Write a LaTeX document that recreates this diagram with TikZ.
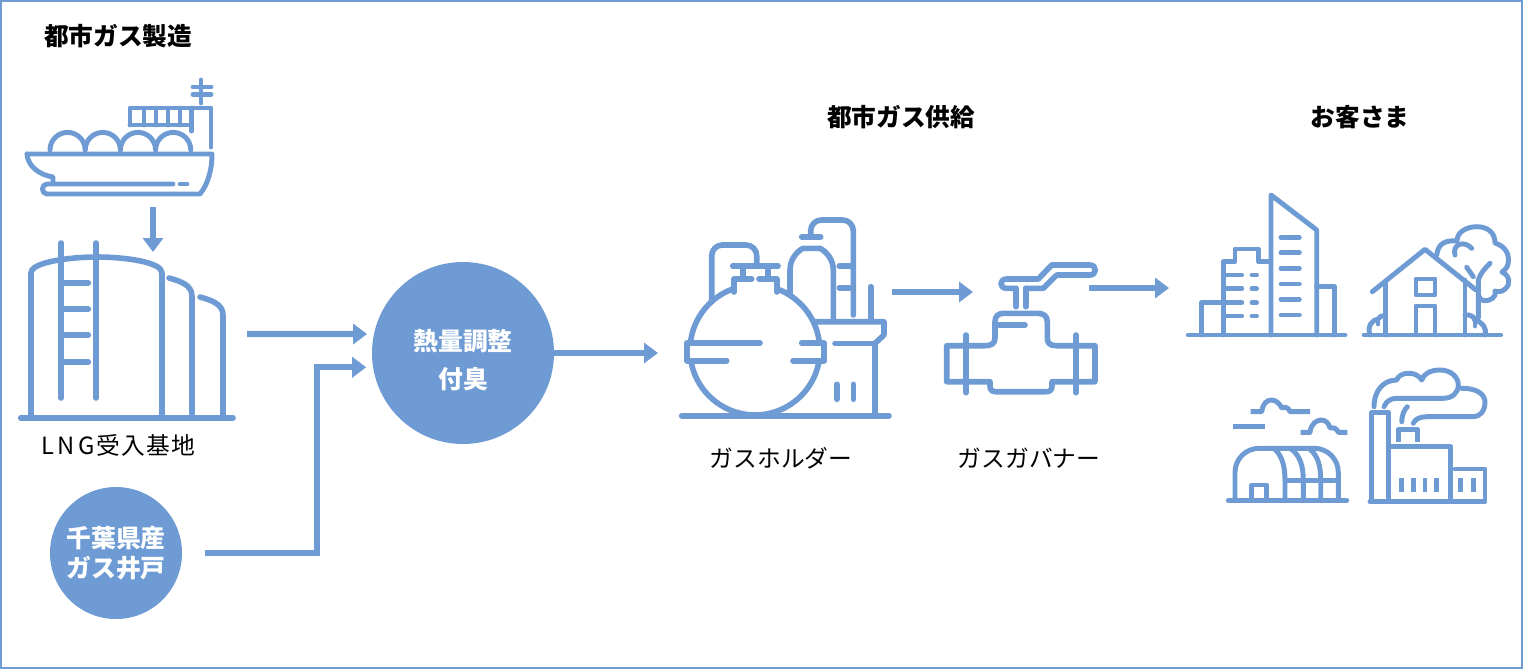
\documentclass[tikz,border=0pt]{standalone}
\usepackage{xcolor}
\usepackage{fontspec}
\usetikzlibrary{arrows.meta,positioning,calc}
\setmainfont{Noto Sans CJK JP}
\definecolor{gasblue}{RGB}{110,155,212}
\tikzset{
  iconline/.style={draw=gasblue, line width=4.2pt, line cap=round, line join=round},
  iconthin/.style={draw=gasblue, line width=3.7pt, line cap=round, line join=round},
  flow/.style={draw=gasblue, line width=4.8pt, -{Triangle[length=10.5pt,width=15pt]}},
  heading/.style={font=\fontsize{18.5}{22}\selectfont\bfseries, text=black},
  caption/.style={font=\fontsize{17.8}{22}\selectfont, text=black},
  hub/.style={circle, fill=gasblue, inner sep=0pt},
  hubtext/.style={align=center, inner sep=0pt, text=white, font=\fontsize{18.6}{28.5}\selectfont\bfseries}
}
\begin{document}
\begin{tikzpicture}[x=0.75pt,y=-0.75pt]
\useasboundingbox (0,0) rectangle (1523,669);
\draw[gasblue, line width=1.6pt] (1,1) rectangle (1522,668);

\node[heading] (maketitle) at (118,36) {都市ガス製造};
\node[heading] (supplytitle) at (901,117) {都市ガス供給};
\node[heading] (usertitle) at (1360,117) {お客さま};
\node[caption] (tanklabel) at (118,445) {L\,N\,G\hspace{0.5pt}受\hspace{1pt}入\hspace{1pt}基\hspace{1pt}地};
\node[caption] (holderlabel) at (781,458) {ガスホルダー};
\node[caption] (valvelabel) at (1029,458) {ガスガバナー};

\node[hub, minimum size=136.5pt] (mix) at (463,353) {};
\node[hub, minimum size=99pt] (well) at (116,553) {};
\node[hubtext] (mixtext) at (463,360) {熱量調整\\付臭};
\node[hubtext, font=\fontsize{18.6}{23}\selectfont\bfseries] (welltext) at (116,553) {千葉県産\\ガス井戸};

\begin{scope}[iconthin]
\draw (27,154) -- (212,154) .. controls (212,170) and (208,184) .. (200,194) -- (47,194)
  .. controls (41,194) and (41,184) .. (47,184) -- (173,184);
\draw (27,154) .. controls (28,167) and (40,175) .. (53,177) -- (53,183);
\draw (180,184) -- (187,184);
\draw (50,150) arc[start angle=180,end angle=360,radius=17.6];
\draw (85.2,150) arc[start angle=180,end angle=360,radius=17.6];
\draw (120.4,150) arc[start angle=180,end angle=360,radius=17.6];
\draw (155.6,150) arc[start angle=180,end angle=360,radius=17.6];
\draw (130,125) -- (130,108) -- (211,108) -- (211,147);
\draw (130,125) -- (191.7,125);
\draw (191.7,108) -- (191.7,131);
\foreach \winx in {144,156,168,180} \draw (\winx,108) -- (\winx,125);
\draw (201,80) -- (201,103);
\draw (193,87) -- (211,87);
\draw (193,94.3) -- (211,94.3);
\end{scope}

\begin{scope}[iconline]
\draw (20.7,418) -- (233,418);
\draw (31,418) -- (31,273) .. controls (31,262) and (70,257) .. (97,257)
  .. controls (125,257) and (162,262) .. (162,273) -- (162,418);
\draw (61,243) -- (61,398);
\draw (96,243) -- (96,398);
\foreach \rungy in {283,309,335,362} \draw (61,\rungy) -- (88.3,\rungy);
\draw (169,278) .. controls (180,281) and (192,285) .. (192,296) -- (192,418);
\draw (200,297) .. controls (211,300) and (223,304) .. (223,315) -- (223,418);
\end{scope}

\begin{scope}[iconline]
\draw (681.7,415.7) -- (889,415.7);
\draw (690.4,343) arc[start angle=186.2,end angle=251.2,radius=65];
\draw (777,288.9) arc[start angle=290,end angle=353.8,radius=65];
\draw (819.1,360.7) arc[start angle=9.5,end angle=170.5,radius=65];
\draw (760,343) -- (686.7,343) -- (686.7,360.7) -- (726.7,360.7);
\draw (801.7,343) -- (824,343) -- (824,360.7) -- (793,360.7);
\draw (734,292) -- (734,279) -- (751.7,279);
\draw (776.7,292) -- (776.7,279) -- (759,279);
\draw (732.7,266) -- (778,266);
\draw (742.7,266) -- (742.7,279);
\draw (767.7,266) -- (767.7,279);
\draw[rounded corners=8pt] (711.7,301.7) -- (711.7,245) -- (756.7,245) -- (756.7,266);
\draw (790,295) -- (790,270) .. controls (790,260) and (796,252) .. (803,248.3) -- (820,248.3)
  .. controls (827,252) and (833.3,260) .. (833.3,270) -- (833.3,320);
\draw (801.7,236.7) -- (820.7,236.7);
\draw[rounded corners=8pt] (810.7,236.7) -- (810.7,220) -- (853.3,220) -- (853.3,315);
\draw (839.3,266) -- (853.3,266);
\draw (839.3,287.7) -- (853.3,287.7);
\draw (815,321.7) -- (884,321.7) -- (884,335) -- (875,343.3) -- (875,415.7);
\draw (835,343.3) -- (875,343.3);
\draw (870.7,286.7) -- (870.7,319);
\draw (836.7,384.3) -- (836.7,399.3);
\draw (853.3,384.3) -- (853.3,399.3);
\end{scope}

\begin{scope}[iconline]
\draw (946.7,345.7) -- (985,345.7) .. controls (992,345.7) and (995,343) .. (995,338) -- (995,322)
  .. controls (995,316) and (998,313.3) .. (1004,313.3) -- (1037,313.3)
  .. controls (1044,313.3) and (1047.3,316) .. (1047.3,322) -- (1047.3,338)
  .. controls (1047.3,343) and (1050,345.7) .. (1056,345.7) -- (1095,345.7) -- (1095,381.7)
  -- (1052,381.7) -- (1052,386) .. controls (1052,390) and (1050,391.7) .. (1046,391.7) -- (996,391.7)
  .. controls (992,391.7) and (990,390) .. (990,386) -- (990,381.7) -- (946.7,381.7) -- cycle;
\draw (998,325) -- (1025,325);
\draw (966,335) -- (966,392.7);
\draw (1075.7,335) -- (1075.7,392.7);
\draw (1016,288.3) -- (1016,306.7);
\draw (1025.7,288.3) -- (1025.7,306.7);
\draw (1016,288.3) -- (1006.7,288.3) .. controls (999,288.3) and (999,279) .. (1006.7,279) -- (1038.3,279)
  -- (1051.7,265) -- (1090,265) .. controls (1097,265) and (1097,275) .. (1090,275) -- (1056.7,275)
  -- (1043.3,288.3) -- (1025.7,288.3);
\end{scope}

\begin{scope}[iconthin]
\draw (1188.3,335) -- (1345,335);
\draw (1201.7,335) -- (1201.7,302.7) -- (1223.3,302.7);
\draw (1223.3,335) -- (1223.3,261.7) -- (1235,261.7) -- (1235,249) -- (1258.3,249) -- (1258.3,261.7) -- (1271,261.7);
\draw (1271,335) -- (1271,195) -- (1316.7,230) -- (1316.7,335);
\draw (1316.7,286.7) -- (1334.3,286.7) -- (1334.3,335);
\foreach \floory in {237.3,252.7,268.3,284,299.3,315} \draw (1281,\floory) -- (1299.3,\floory);
\foreach \floory in {275,288.7,302.7,316} {
  \draw (1223.3,\floory) -- (1241.7,\floory);
  \draw (1252,\floory) -- (1256.5,\floory);
}

\draw (1364,335) -- (1500.7,335);
\draw (1372.3,291.7) -- (1425,249.3) -- (1476,290);
\draw (1385.7,281.7) -- (1385.7,335);
\draw (1465,280) -- (1465,335);
\draw (1416,279) rectangle (1435,295);
\draw (1416,335) -- (1416,306) -- (1435,306) -- (1435,335);
\draw (1478.3,318) -- (1478.3,280) .. controls (1480,274) and (1485,268) .. (1490,263.3);
\draw (1466.7,267.3) -- (1473.3,276.7);
\draw (1455,255) .. controls (1452,244) and (1464,240) .. (1471.7,248.3);
\draw (1436.7,255) .. controls (1438,243) and (1446,240) .. (1457,241)
  .. controls (1457,231) and (1468,226.7) .. (1476.7,226.7)
  .. controls (1487,226.7) and (1495,232) .. (1495,243)
  .. controls (1505,246) and (1510,254) .. (1508,264)
  .. controls (1507,268) and (1505,270) .. (1502,272)
  .. controls (1510,276) and (1511,284) .. (1505,289)
  .. controls (1502,292) and (1498,292) .. (1495,291)
  .. controls (1497,297) and (1490,301) .. (1485,300.7)
  .. controls (1481,300.7) and (1479,298) .. (1478.3,295);
\draw (1370,335) .. controls (1367,326) and (1372,320) .. (1378,319)
  .. controls (1379,316) and (1382,315.5) .. (1385.7,316);
\draw (1378,319) -- (1378,324);
\draw (1465,315) .. controls (1470,314) and (1475,317) .. (1475,321)
  .. controls (1482,321) and (1487,328) .. (1485,335);
\draw (1475,321) -- (1475,326);

\draw (1228.3,500.7) -- (1346.7,500.7);
\draw[rounded corners=18pt] (1235,500.7) -- (1235,448.3) -- (1338.3,448.3) -- (1338.3,500.7);
\draw (1251.7,500.7) -- (1251.7,485) -- (1266.7,485) -- (1266.7,500.7);
\draw (1285,480.7) -- (1338.3,480.7);
\draw (1285,500.7) -- (1285,480.7) .. controls (1285,466) and (1282,456) .. (1275,449.3);
\draw (1303.3,500.7) -- (1303.3,480.7) .. controls (1303.3,466) and (1300,456) .. (1291.7,449.3);
\draw (1320.7,500.7) -- (1320.7,480.7) .. controls (1320.7,466) and (1318,456) .. (1310,449.3);
\draw[line cap=butt] (1233.3,426.7) -- (1265,426.7);
\draw[line cap=butt] (1250.7,411.7) -- (1261.7,411.7) .. controls (1263,403) and (1267,400) .. (1271.7,400)
  .. controls (1276,400) and (1280,404) .. (1281.7,408) .. controls (1285,406) and (1289,408) .. (1290,411.7) -- (1310,411.7);
\draw[line cap=butt] (1300.7,432.3) -- (1310,432.3) .. controls (1311,424) and (1316,420) .. (1321.7,420)
  .. controls (1326,420) and (1329,424) .. (1330,428) .. controls (1334,427) and (1337,429) .. (1338.3,432.3) -- (1347.3,432.3);

\draw (1370,501.7) -- (1485,501.7) -- (1485,469) -- (1455,469);
\draw (1371.7,501.7) -- (1371.7,412.7) -- (1388.3,412.7) -- (1388.3,501.7);
\draw (1388.3,446.7) -- (1450.7,446.7) -- (1450.7,501.7);
\foreach \barx in {1401.7,1413.3,1425,1436.7,1460.7,1473.3} \draw[line cap=butt] (\barx,478.3) -- (\barx,491.7);
\draw[line cap=butt] (1398.3,441.7) -- (1398.3,429.3) -- (1417.3,429.3) -- (1417.3,441.7);
\draw (1374,406.7) .. controls (1374,390) and (1384,380) .. (1396.7,380)
  .. controls (1399,372) and (1416,370) .. (1421.7,380)
  .. controls (1425,372) and (1432,370) .. (1440,370)
  .. controls (1452,370) and (1458.3,378) .. (1458.3,385)
  .. controls (1458.3,393) and (1452,398.3) .. (1443.3,398.3) -- (1396.7,398.3)
  .. controls (1391,398.3) and (1386,401) .. (1384,406.7);
\draw (1461.7,388.3) .. controls (1476,388) and (1485,394) .. (1485,402)
  .. controls (1485,411) and (1480,416.7) .. (1473.3,416.7) -- (1426.7,416.7)
  .. controls (1420,416.7) and (1415,419) .. (1413.3,423.3);
\draw (1407.3,406.7) .. controls (1404,410) and (1402,415) .. (1401.7,421.7);
\end{scope}

\coordinate (shipport) at (153,207);
\coordinate (tankin) at (153,252);
\coordinate (tankport) at (247,334);
\coordinate (elbow) at (317,553);
\coordinate (holderin) at (658,353);
\coordinate (holderport) at (892,292);
\coordinate (valvein) at (973,292);
\coordinate (valveport) at (1089,288);
\coordinate (cityin) at (1169,288);

\draw[flow] (shipport) -- (tankin);
\draw[flow, shorten >=5pt] (tankport) -- (mix.168);
\draw[flow, shorten <=17pt, shorten >=5pt] (well.east) -- (elbow) |- (mix.189.5);
\draw[flow] (mix.east) -- (holderin);
\draw[flow] (holderport) -- (valvein);
\draw[flow] (valveport) -- (cityin);
\end{tikzpicture}
\end{document}
